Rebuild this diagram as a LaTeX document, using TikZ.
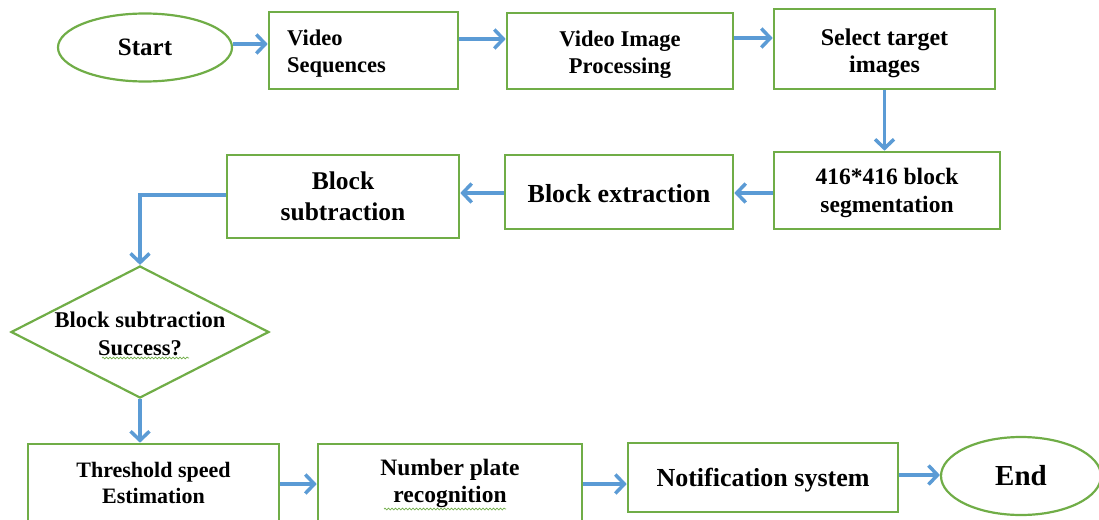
\documentclass[tikz,border=0pt]{standalone}
\usepackage{fontspec}
\setmainfont{Liberation Serif}
\usetikzlibrary{shapes.geometric,arrows.meta,decorations.pathmorphing}
\definecolor{flowgreen}{RGB}{112,173,71}
\definecolor{flowblue}{RGB}{91,155,213}
\newcommand{\bsz}[2]{\bfseries\fontsize{#1}{#2}\selectfont}
\begin{document}
\begin{tikzpicture}[x=1pt,y=-1pt,
  box/.style={draw=flowgreen, line width=2.6pt, rectangle, inner sep=0pt, align=center},
  term/.style={draw=flowgreen, line width=2.2pt, ellipse, inner sep=0pt},
  decision/.style={draw=flowgreen, line width=2.2pt, diamond, inner sep=0pt},
  lbl/.style={align=center, inner sep=0pt},
  arr/.style={draw=flowblue, line width=3.5pt, -{Straight Barb[length=9pt,width=19pt]}},
  squig/.style={draw=flowgreen, line width=0.7pt, decorate, decoration={snake, amplitude=0.9pt, segment length=3.5pt}}
]
\useasboundingbox (0,0) rectangle (1099,519);
\clip (0,0) rectangle (1099,519);

% top row
\node[term, minimum width=174pt, minimum height=68pt, font=\bsz{25}{30}] (start) at (145,47.5) {Start};
\node[box, minimum width=189pt, minimum height=77pt] (vs) at (363.5,50.5) {};
\node[lbl, anchor=west, align=left, font=\bsz{22.5}{27}] (vst) at (287,53.5) {Video\\Sequences};
\node[box, minimum width=226pt, minimum height=76pt] (vip) at (620,51) {};
\node[lbl, font=\bsz{22.5}{27}] (vipt) at (620,54.5) {Video Image\\Processing};
\node[box, minimum width=221pt, minimum height=80pt] (sel) at (884.5,49) {};
\node[lbl, font=\bsz{24}{27}] (selt) at (884.5,53) {Select target\\images};

% second row
\node[box, minimum width=226pt, minimum height=77pt] (seg) at (887,190.5) {};
\node[lbl, font=\bsz{23.5}{28}] (segt) at (887,193) {416*416 block\\segmentation};
\node[box, minimum width=228pt, minimum height=74pt, font=\bsz{26}{30}, text height=21pt] (ext) at (619,192) {Block extraction};
\node[box, minimum width=232pt, minimum height=83pt, font=\bsz{25.5}{31}] (sub) at (343,196.5) {Block\\subtraction};

% decision
\node[decision, minimum width=258pt, minimum height=132pt] (dec) at (140,332) {};
\node[lbl, font=\bsz{22.5}{28}] (dect) at (140,334) {Block subtraction\\Success?};
\draw[squig] (102,358) -- (189,358);

% bottom row
\node[box, minimum width=251pt, minimum height=100pt] (thr) at (153.5,494) {};
\node[lbl, font=\bsz{22}{26}] (thrt) at (153.5,483) {Threshold speed\\Estimation};
\node[box, minimum width=264pt, minimum height=100pt] (npr) at (450,494) {};
\node[lbl, font=\bsz{23.5}{27}] (nprt) at (450,483) {Number plate\\recognition};
\draw[squig] (384,509) -- (506,509);
\node[box, minimum width=270pt, minimum height=69pt, font=\bsz{26}{30}, text height=24pt] (noti) at (763,477.5) {Notification system};
\node[term, minimum width=160pt, minimum height=78pt, font=\bsz{29}{34}] (end) at (1021,476) {End};

% connectors
\draw[arr] (start.east |- 0,44) -- (vs.west |- 0,44);
\draw[arr] (vs.east |- 0,39) -- (vip.west |- 0,39);
\draw[arr] (vip.east |- 0,38) -- (sel.west |- 0,38);
\draw[arr] (sel.south) -- (sel.south |- seg.north);
\draw[arr] (seg.west |- 0,193) -- (ext.east |- 0,193);
\draw[arr] (ext.west |- 0,193) -- (sub.east |- 0,193);
\draw[arr] (sub.west |- 0,195) -| (dec.north);
\draw[arr] (dec.south) -- (dec.south |- thr.north);
\draw[arr] (thr.east |- 0,484) -- (npr.west |- 0,484);
\draw[arr] (npr.east |- 0,484) -- (noti.west |- 0,484);
\draw[arr] (noti.east |- 0,475) -- (end.west |- 0,475);
\end{tikzpicture}
\end{document}
